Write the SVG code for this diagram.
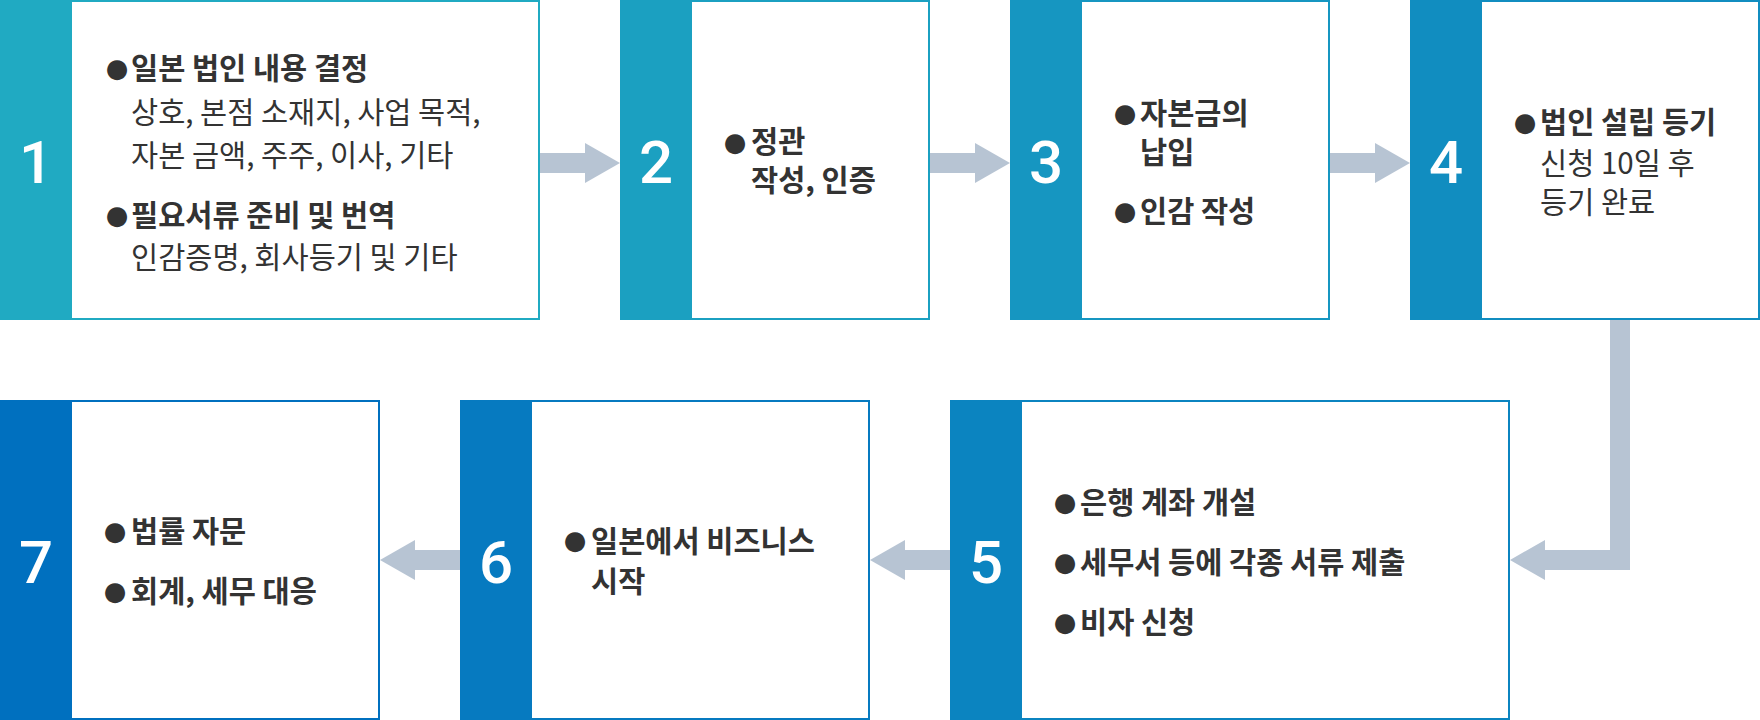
<svg xmlns="http://www.w3.org/2000/svg" width="1760" height="720" viewBox="0 0 1760 720">
<style>
.frame{fill:#ffffff;stroke-width:2}
.num{font-family:Roboto,"Liberation Sans",sans-serif;font-size:60px;font-weight:500;fill:#ffffff;text-anchor:middle}
.b{font-family:"Noto Sans CJK KR","Noto Sans",sans-serif;font-size:29.5px;font-weight:700;fill:#333333}
.r{font-family:"Noto Sans CJK KR","Noto Sans",sans-serif;font-size:29.5px;font-weight:400;fill:#333333}
.dot{font-family:"DejaVu Sans",sans-serif;font-size:26px;fill:#333333;text-anchor:middle}
.arrow{fill:#b7c4d3}
</style>
<rect width="1760" height="720" fill="#ffffff"/>
<g id="connectors">
<polygon class="arrow" points="540,153 585,153 585,143 620,163 585,183 585,173 540,173"/>
<polygon class="arrow" points="930,153 975,153 975,143 1010,163 975,183 975,173 930,173"/>
<polygon class="arrow" points="1330,153 1375,153 1375,143 1410,163 1375,183 1375,173 1330,173"/>
<polygon class="arrow" points="1610,320 1630,320 1630,570 1545,570 1545,580 1510,560 1545,540 1545,550 1610,550"/>
<polygon class="arrow" points="950,550 905,550 905,540 870,560 905,580 905,570 950,570"/>
<polygon class="arrow" points="460,550 415,550 415,540 380,560 415,580 415,570 460,570"/>
</g>
<g id="node1">
<rect class="frame" x="1" y="1" width="538" height="318" stroke="#20aac2"/>
<rect x="0" y="0" width="72" height="320" fill="#20aac2"/>
<text class="num" x="36" y="183">1</text>
<text class="dot" x="117" y="77">●</text>
<text class="b" x="131" y="79">일본 법인 내용 결정</text>
<text class="r" x="131" y="123">상호, 본점 소재지, 사업 목적,</text>
<text class="r" x="131" y="166">자본 금액, 주주, 이사, 기타</text>
<text class="dot" x="117" y="224">●</text>
<text class="b" x="131" y="226">필요서류 준비 및 번역</text>
<text class="r" x="131" y="268">인감증명, 회사등기 및 기타</text>
</g>
<g id="node2">
<rect class="frame" x="621" y="1" width="308" height="318" stroke="#1ba0c1"/>
<rect x="620" y="0" width="72" height="320" fill="#1ba0c1"/>
<text class="num" x="656" y="183">2</text>
<text class="dot" x="735" y="151">●</text>
<text class="b" x="751" y="152">정관</text>
<text class="b" x="751" y="191">작성, 인증</text>
</g>
<g id="node3">
<rect class="frame" x="1011" y="1" width="318" height="318" stroke="#1696c1"/>
<rect x="1010" y="0" width="72" height="320" fill="#1696c1"/>
<text class="num" x="1046" y="183">3</text>
<text class="dot" x="1125" y="122">●</text>
<text class="b" x="1140" y="124">자본금의</text>
<text class="b" x="1140" y="163">납입</text>
<text class="dot" x="1125" y="220">●</text>
<text class="b" x="1140" y="222">인감 작성</text>
</g>
<g id="node4">
<rect class="frame" x="1411" y="1" width="348" height="318" stroke="#118dc0"/>
<rect x="1410" y="0" width="72" height="320" fill="#118dc0"/>
<text class="num" x="1446" y="183">4</text>
<text class="dot" x="1525" y="131">●</text>
<text class="b" x="1540" y="133">법인 설립 등기</text>
<text class="r" x="1540" y="174">신청 10일 후</text>
<text class="r" x="1540" y="213">등기 완료</text>
</g>
<g id="node5">
<rect class="frame" x="951" y="401" width="558" height="318" stroke="#0b84c0"/>
<rect x="950" y="400" width="72" height="320" fill="#0b84c0"/>
<text class="num" x="986" y="583">5</text>
<text class="dot" x="1065" y="511">●</text>
<text class="b" x="1080" y="513">은행 계좌 개설</text>
<text class="dot" x="1065" y="571">●</text>
<text class="b" x="1080" y="573">세무서 등에 각종 서류 제출</text>
<text class="dot" x="1065" y="631">●</text>
<text class="b" x="1080" y="633">비자 신청</text>
</g>
<g id="node6">
<rect class="frame" x="461" y="401" width="408" height="318" stroke="#067ac0"/>
<rect x="460" y="400" width="72" height="320" fill="#067ac0"/>
<text class="num" x="496" y="583">6</text>
<text class="dot" x="575" y="549">●</text>
<text class="b" x="591" y="552">일본에서 비즈니스</text>
<text class="b" x="591" y="592">시작</text>
</g>
<g id="node7">
<rect class="frame" x="1" y="401" width="378" height="318" stroke="#0070bf"/>
<rect x="0" y="400" width="72" height="320" fill="#0070bf"/>
<text class="num" x="36" y="583">7</text>
<text class="dot" x="115" y="540">●</text>
<text class="b" x="131" y="542">법률 자문</text>
<text class="dot" x="115" y="600">●</text>
<text class="b" x="131" y="602">회계, 세무 대응</text>
</g>
</svg>
